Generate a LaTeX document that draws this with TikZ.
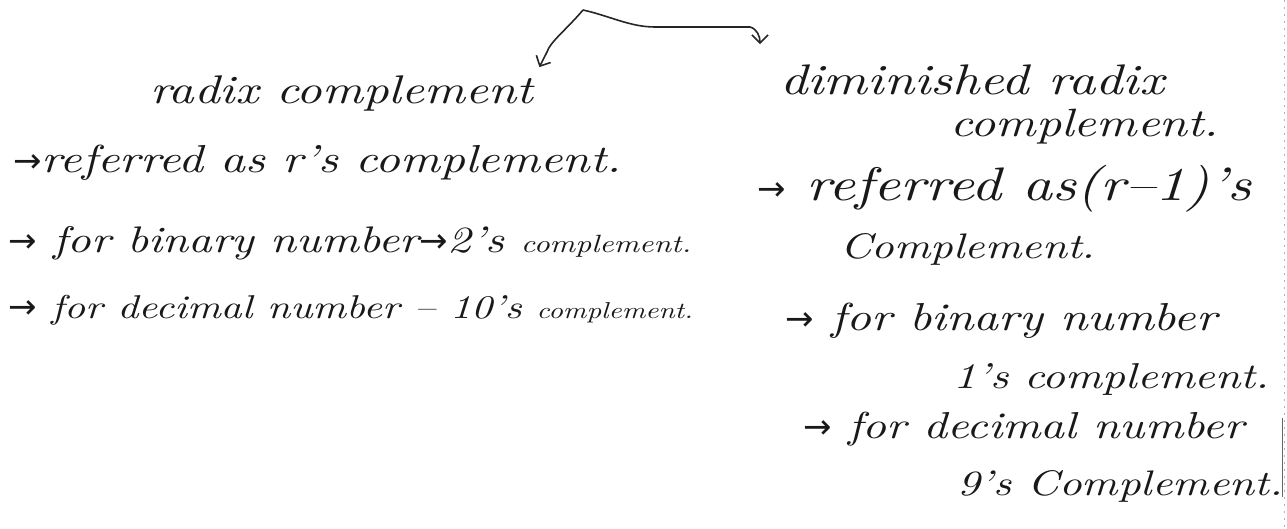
\documentclass[tikz,border=0pt]{standalone}
\usepackage{fontspec}
\newfontfamily\symf{DejaVu Sans}
\newfontfamily\handf{lmroman10-italic.otf}[FakeStretch=1.25,Ligatures=TeX]
\newcommand{\rarr}{{\symf\fontsize{34}{40}\selectfont →}}
\usetikzlibrary{arrows.meta,calc}
\begin{document}
\begin{tikzpicture}[x=1pt,y=-1pt,
  hand/.style={font=\handf\fontsize{#1}{#1}\selectfont, anchor=base west, inner sep=0pt, text=black!90},
  conn/.style={line width=1.6pt, draw=black!85, -{Straight Barb[length=8pt,width=16pt,line width=1.6pt]}}]
\useasboundingbox (0,0) rectangle (1287,528);
% left column
\node[hand=40] (radix) at (150,103) {radix complement};
\node[hand=39] (lref) at (13,172) {\rarr referred as r's complement.};
\node[hand=37] (lbin) at (8,252) {\rarr\ for binary number\rarr 2's {\fontsize{25}{30}\selectfont complement.}};
\node[hand=33] (ldec) at (8,318) {\rarr\ for decimal number -- 10's {\fontsize{23}{28}\selectfont complement.}};
% right column
\node[hand=42.8] (rtitle) at (780,94) {diminished radix};
\node[hand=39.5] (rtitle2) at (950,136) {complement.};
\node[hand=47] (rref) at (757,200) {\rarr\ referred as(r--1)'s};
\node[hand=35.5] (rref2) at (840,258) {Complement.};
\node[hand=39] (rbin) at (785,330) {\rarr\ for binary number};
\node[hand=36] (rbin2) at (953,388) {1's complement.};
\node[hand=37.5] (rdec) at (803,438) {\rarr\ for decimal number};
\node[hand=35.5] (rdec2) at (957,495) {9's Complement.};
% connectors
\coordinate (root) at (583,10);
\draw[conn] (root) .. controls (566,30) and (550,42) .. (547,52) -- ($(radix.north east)+(6,-8)$);
\draw[conn] (root) .. controls (610,16) and (630,27) .. (655,27) -- (750,27) .. controls (757,29) and (760,36) .. ($(rtitle.north west)+(-20,-20)$);
% scan edge marks
\draw[black!30, line width=0.6pt, dash pattern=on 2pt off 5pt] (1284,0) -- (1284,528);
\draw[black!60, line width=1pt] (1282,418) -- (1282,497);
\end{tikzpicture}
\end{document}
